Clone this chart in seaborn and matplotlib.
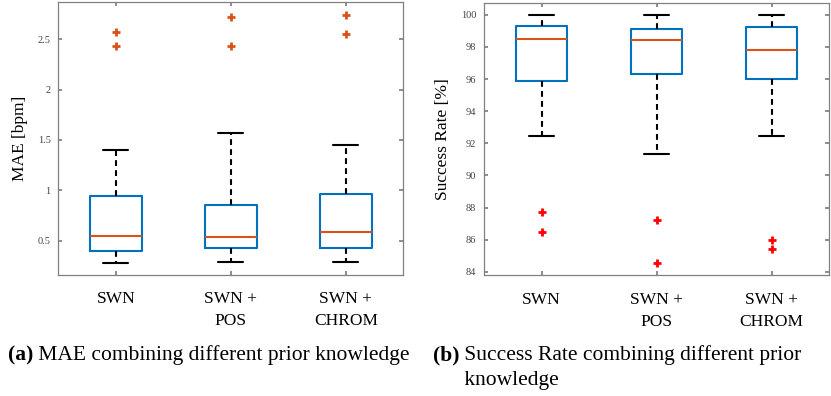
import numpy as np
import pandas as pd
import matplotlib
matplotlib.use("Agg")
import matplotlib.pyplot as plt
import seaborn as sns

# ---------------- data ----------------
categories = ["SWN", "SWN +\nPOS", "SWN +\nCHROM"]

mae_lower_whisker = [0.275, 0.29, 0.29]
mae_q1 = [0.40, 0.43, 0.43]
mae_median = [0.55, 0.54, 0.59]
mae_q3 = [0.945, 0.855, 0.96]
mae_upper_whisker = [1.405, 1.57, 1.445]
mae_outliers = [[2.43, 2.57], [2.43, 2.72], [2.55, 2.74]]

sr_lower_whisker = [92.48, 91.31, 92.48]
sr_q1 = [95.89, 96.33, 95.98]
sr_median = [98.49, 98.40, 97.83]
sr_q3 = [99.32, 99.11, 99.23]
sr_upper_whisker = [100.0, 100.0, 100.0]
sr_outliers = [[86.49, 87.70], [84.52, 87.24], [85.41, 85.95]]

mae_ticks = [0.5, 1, 1.5, 2, 2.5]
mae_ticklabels = ["0.5", "1", "1.5", "2", "2.5"]
sr_ticks = [84, 86, 88, 90, 92, 94, 96, 98, 100]


def box_samples(lo, q1, med, q3, hi, outs):
    """Sample set (13 values) whose quartiles / whiskers equal the summary."""
    outs = sorted(outs)
    if outs[0] > hi:
        return [lo, q1, q1, q1, med, med, med, q3, q3, q3, hi] + outs
    return outs + [lo, q1, q1, med, med, med, q3, q3, hi, hi, hi]


def build_frame(lo, q1, med, q3, hi, outs, name):
    rows = []
    for i, cat in enumerate(categories):
        for v in box_samples(lo[i], q1[i], med[i], q3[i], hi[i], outs[i]):
            rows.append({"method": cat, name: v})
    return pd.DataFrame(rows)


mae_df = build_frame(mae_lower_whisker, mae_q1, mae_median, mae_q3,
                     mae_upper_whisker, mae_outliers, "mae")
sr_df = build_frame(sr_lower_whisker, sr_q1, sr_median, sr_q3,
                    sr_upper_whisker, sr_outliers, "sr")

# ---------------- style ----------------
sns.set_theme(style="white")
plt.rcParams["font.family"] = ["Liberation Serif", "DejaVu Serif"]
plt.rcParams["text.color"] = "black"
plt.rcParams["axes.labelcolor"] = "black"

BLUE = "#0072BD"
ORANGE = "#D95319"
SPINE = "#808080"

fig = plt.figure(figsize=(8.31, 3.96), dpi=100)
ax1 = fig.add_axes([58.3 / 831, 1 - 274.7 / 396, 345 / 831, 272.4 / 396])
ax2 = fig.add_axes([484 / 831, 1 - 275 / 396, 345 / 831, 272.3 / 396])


def draw(ax, df, col, flier_color):
    sns.boxplot(
        data=df, x="method", y=col, order=categories, ax=ax,
        width=0.45, whis=2.0, fill=False, linewidth=1.5,
        boxprops=dict(color=BLUE),
        medianprops=dict(color=ORANGE),
        whiskerprops=dict(color="black", linestyle=(0, (2.8, 2.0))),
        capprops=dict(color="black"),
        flierprops=dict(marker="+", markeredgecolor=flier_color,
                        markerfacecolor=flier_color, markersize=6,
                        markeredgewidth=2.0),
        capwidths=0.22,
    )
    for s in ax.spines.values():
        s.set_visible(True)
        s.set_color(SPINE)
        s.set_linewidth(0.9)
    ax.set_xlabel("")
    ax.tick_params(axis="both", which="both", direction="in", length=3,
                   color=SPINE, top=True, right=True, left=True, bottom=True)
    ax.tick_params(axis="y", labelsize=7.5, labelcolor="#444444", pad=5.5)
    ax.tick_params(axis="x", labelsize=12.5, labelcolor="black", pad=12)
    for lbl in ax.get_xticklabels():
        lbl.set_linespacing(1.5)
    ax.set_xlim(-0.5, 2.5)


draw(ax1, mae_df, "mae", ORANGE)
ax1.set_ylim(0.162, 2.867)
ax1.set_yticks(mae_ticks)
ax1.set_yticklabels(mae_ticklabels)
ax1.set_ylabel("MAE [bpm]", fontsize=12.5, color="black", labelpad=7)

draw(ax2, sr_df, "sr", "#FF0000")
ax2.set_ylim(83.8, 100.75)
ax2.set_yticks(sr_ticks)
ax2.set_ylabel("Success Rate [%]", fontsize=12.5, color="black", labelpad=7)

# ---------------- captions ----------------
CAP = 15.5
ta = fig.text(8 / 831, 1 - 360 / 396, "(a)", fontsize=CAP, fontweight="bold",
              va="baseline", ha="left", color="black")
ax1.annotate(" MAE combining different prior knowledge", xy=(1, 0),
             xycoords=ta, fontsize=CAP, va="bottom", ha="left",
             color="black", annotation_clip=False)

tb = fig.text(432.7 / 831, 1 - 360 / 396, "(b)", fontsize=CAP,
              fontweight="bold", va="baseline", ha="left", color="black")
ax2.annotate(" Success Rate combining different prior\n knowledge",
             xy=(1, 1), xycoords=tb, fontsize=CAP, va="top", ha="left",
             linespacing=1.45, color="black", annotation_clip=False)

fig.savefig("out.png", dpi=100)
